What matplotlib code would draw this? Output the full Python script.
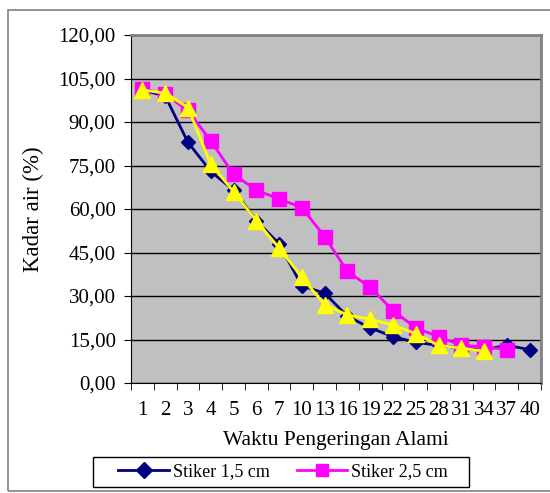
import matplotlib
matplotlib.use("Agg")
import matplotlib.pyplot as plt
from matplotlib.patches import Rectangle
from matplotlib.ticker import FuncFormatter, FixedLocator
import numpy as np

plt.rcParams['font.family'] = ['Liberation Serif', 'DejaVu Serif']

# drying time categories (x axis)
waktu = ['1', '2', '3', '4', '5', '6', '7', '10', '13', '16', '19', '22',
         '25', '28', '31', '34', '37', '40']

# moisture content (%) per series
stiker_15 = [101, 99, 83, 73, 66.5, 56, 48, 33.5, 31, 23, 19, 16,
             14, 13, 12, 11.5, 13, 11.5]
stiker_25 = [101.5, 99.5, 94, 83.5, 72, 66.5, 63.5, 60.5, 50.5, 38.5, 33, 25,
             19, 16, 13, 12.5, 11.5]
stiker_3 = [101, 100, 95, 75.5, 66, 56, 46.5, 36.5, 27, 23.5, 22, 20,
            17, 13, 12, 11]

yticks = [0, 15, 30, 45, 60, 75, 90, 105, 120]

fig = plt.figure(figsize=(5.5, 4.93), dpi=100)
fig.patch.set_facecolor('white')

# outer chart border
fig.patches.append(Rectangle((8 / 550, 2 / 493), 1.0, 481 / 493,
                             transform=fig.transFigure, fill=False,
                             edgecolor='#808080', linewidth=1.2))

ax = fig.add_axes([131 / 550, 1 - 383 / 493, 410 / 550, 348 / 493])
ax.set_facecolor('#C0C0C0')

x15 = np.arange(len(stiker_15))
x25 = np.arange(len(stiker_25))
x3 = np.arange(len(stiker_3))

ax.plot(x15, stiker_15, color='#000080', marker='D', markersize=7,
        linewidth=2, label='Stiker 1,5 cm', zorder=3)
ax.plot(x25, stiker_25, color='#FF00FF', marker='s', markersize=10,
        linewidth=2, label='Stiker 2,5 cm', zorder=4)
ax.plot(x3, stiker_3, color='#FFFF00', marker='^', markersize=11,
        linewidth=2, zorder=5)

ax.set_xlim(-0.5, len(waktu) - 0.5)
ax.set_ylim(0, 120)

# gridlines
ax.set_yticks(yticks)
ax.yaxis.set_major_formatter(FuncFormatter(lambda v, p: f"{v:.2f}".replace('.', ',')))
ax.grid(axis='y', color='black', linewidth=1)
ax.set_axisbelow(True)

# x labels at centres, ticks at the category boundaries
ax.set_xticks(np.arange(len(waktu)))
ax.set_xticklabels(waktu)
ax.xaxis.set_minor_locator(FixedLocator(np.arange(-0.5, len(waktu), 1)))
ax.tick_params(axis='x', which='major', length=0, pad=13, labelsize=15)
ax.tick_params(axis='x', which='minor', length=5, direction='out', color='black')
ax.tick_params(axis='y', length=5, direction='out', labelsize=15, pad=6)

for side in ['top', 'right']:
    ax.spines[side].set_color('#808080')
    ax.spines[side].set_linewidth(2)
ax.spines['left'].set_color('black')
ax.spines['bottom'].set_color('black')

ax.set_xlabel('Waktu Pengeringan Alami', fontsize=15.5, labelpad=8)
ax.set_ylabel('Kadar air (%)', fontsize=16.5, labelpad=10)

# legend box drawn separately to get Excel-like padding
fig.patches.append(Rectangle((93 / 550, 1 - 487 / 493), 376 / 550, 30 / 493,
                             transform=fig.transFigure, fill=False,
                             edgecolor='black', linewidth=1))
leg = fig.legend(loc='center', bbox_to_anchor=(283 / 550, 1 - 472 / 493),
                 ncol=2, fontsize=13, frameon=False,
                 handlelength=2.8, handletextpad=0.2,
                 columnspacing=1.5, borderpad=0, borderaxespad=0)
for h in leg.legend_handles:
    h.set_markersize(8)

fig.savefig('out.png', dpi=100, facecolor='white')
